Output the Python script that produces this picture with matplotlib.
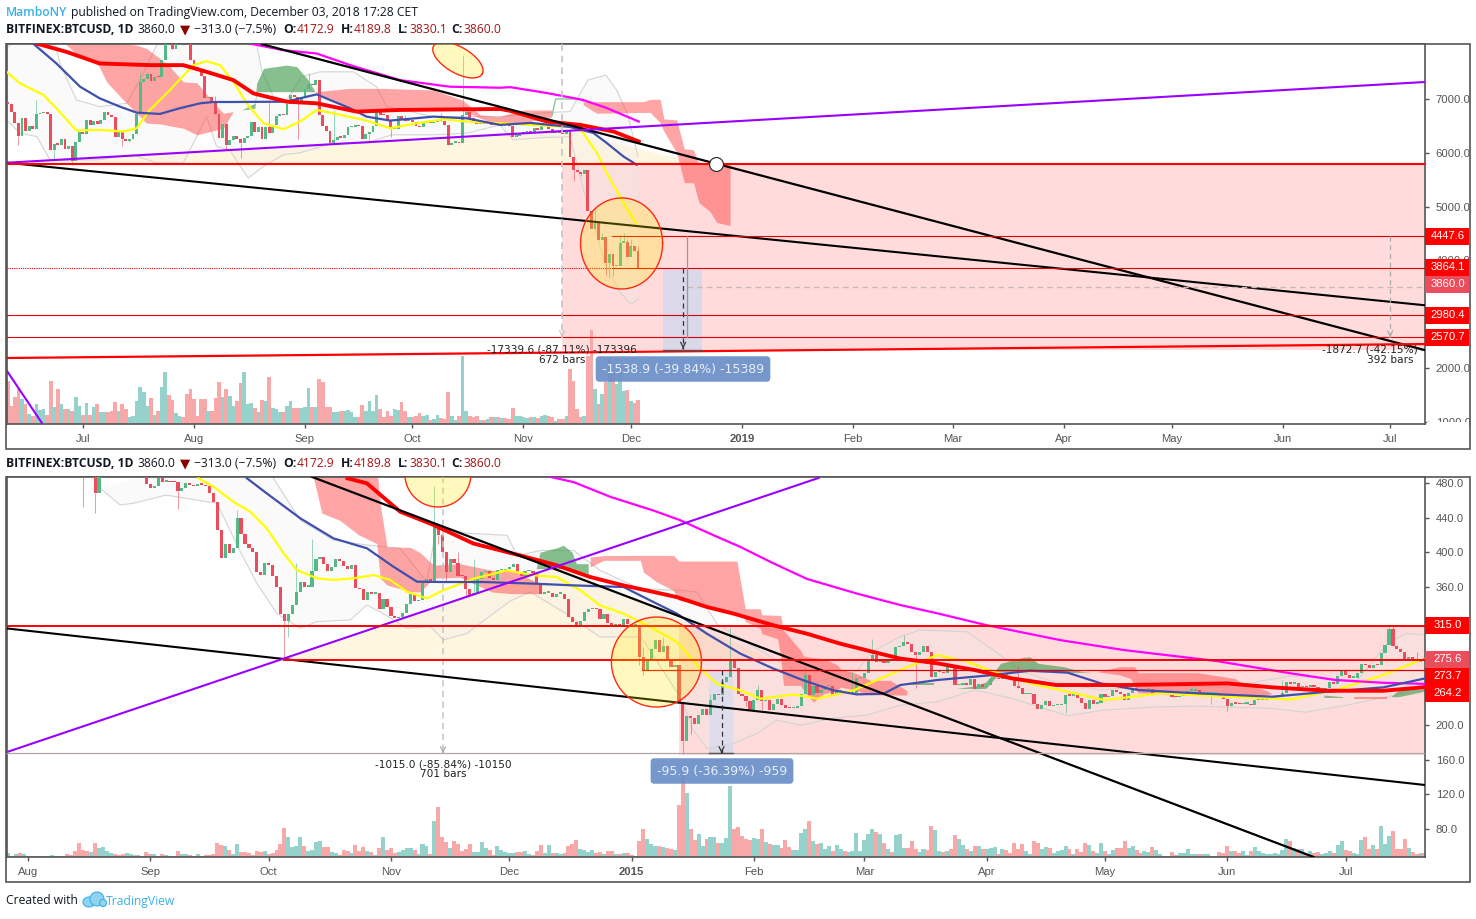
"""
Two stacked BTCUSD daily charts (2018 vs 2014-15 fractal) with the drawings on top.
Day numbers: top panel 0 = 2018-07-01, bottom panel 0 = 2014-08-01.
Volume is in arbitrary units, read off the bar heights.
"""

import numpy as np
import matplotlib
matplotlib.use('Agg')
import matplotlib.pyplot as plt
from matplotlib.patches import Rectangle, Ellipse

W, H = 1476, 919

# ---------- top panel data ----------
top_first_day = -21
top_first_open = 6950
top_close = [
    # Jun 10-30
    6900, 6765, 6550, 6305, 6640, 6400, 6500, 6450, 6720, 6740, 6760, 6720, 6050, 6170, 6150, 6250, 6070, 6130, 5850, 6200, 6380,
    # Jul
    6350, 6610, 6510, 6590, 6530, 6600, 6750, 6700, 6660, 6300, 6380, 6250, 6220, 6250, 6350, 6730, 7320, 7380, 7470, 7330,
    7410, 7400, 7720, 8400, 8170, 7930, 8170, 8230, 8210, 8170, 7730,
    # Aug
    7600, 7530, 7420, 7010, 7030, 6930, 6720, 6280, 6540, 6150, 6240, 6310, 6250, 6190, 6270, 6310, 6580, 6390, 6480, 6260,
    6470, 6360, 6520, 6690, 6730, 6700, 6910, 7080, 7030, 6970, 7010,
    # Sep
    7190, 7270, 7260, 7360, 6700, 6500, 6400, 6180, 6240, 6300, 6280, 6330, 6480, 6480, 6520, 6500, 6250, 6340, 6390, 6490,
    6750, 6710, 6700, 6590, 6440, 6440, 6680, 6620, 6590, 6600,
    # Oct
    6580, 6500, 6480, 6550, 6590, 6550, 6570, 6610, 6590, 6520, 6150, 6190, 6200, 6180, 6700, 6750, 6650, 6560, 6530, 6560,
    6530, 6530, 6510, 6530, 6510, 6530, 6520, 6500, 6300, 6310, 6340,
    # Nov 1-13
    6380, 6400, 6360, 6460, 6430, 6510, 6540, 6450, 6360, 6380, 6370, 6350, 6400,
    # Nov 14 - Dec 3
    5930, 5685, 5650, 5600, 5680, 4913, 4574, 4700, 4375, 4430, 3945, 4110, 3890, 3890, 4330, 4350, 4055, 4260, 4170, 3864]
top_hi_days = [-13, 16, 37, 52, 63, 106, 143, 144, 145, 150, 151, 152, 153, 155, 25, 70, 90, 100]
top_hi_vals = [6980, 7505, 7050, 6950, 7475, 7815, 4950, 4700, 4500, 4480, 4500, 4390, 4390, 4270, 8450, 6800, 6700, 6740]
top_lo_days = [-18, -8, -3, 11, 13, 40, 44, 80, 86, 102, 137, 139, 146, 147, 148, 28, 60]
top_lo_vals = [6148, 5870, 5780, 6117, 6200, 6055, 5900, 6180, 6300, 6272, 5470, 5560, 3700, 3680, 3710, 8000, 6250]
top_vol = [
    130, 55, 80, 105, 75, 60, 30, 25, 60, 42, 45, 28, 130, 50, 105, 60, 45, 45, 40, 80,
    55, 28, 62, 28, 52, 60, 35, 35, 35, 38, 65, 38, 60, 45, 20, 25, 70, 112, 95, 55,
    78, 27, 40, 112, 155, 88, 72, 32, 25, 22, 90, 105, 75, 25, 75, 75, 40, 40, 78, 127,
    82, 105, 85, 55, 70, 124, 157, 60, 62, 48, 35, 72, 70, 140, 48, 45, 35, 37, 55, 70,
    48, 48, 48, 52, 108, 52, 50, 134, 125, 50, 50, 37, 35, 38, 38, 42, 35, 20, 20, 57,
    38, 70, 40, 88, 45, 22, 40, 25, 45, 42, 65, 38, 20, 22, 25, 33, 25, 28, 13, 15,
    28, 17, 15, 97, 23, 12, 25, 203, 38, 25, 22, 25, 12, 12, 15, 20, 20, 20, 18, 18,
    15, 47, 25, 23, 20, 18, 20, 20, 17, 25, 27, 25, 22, 8, 15, 15, 23,
    165, 130, 45, 20, 25, 205, 282, 105, 60, 90, 125, 200, 155, 120, 155, 100, 102, 70, 62, 73]

# moving averages, sampled along the curve
top_yellow_d = [-21.3, -17.6, -11, -7.4, -1.8, 4.7, 11.3, 15, 18.7, 24.3, 30.8, 34.5, 38.3, 42, 45.7, 50.4, 56, 60.6, 65.3, 69.9, 79.2, 85.8, 93.2, 100.7, 107.2, 116.5, 136, 139.7, 143.5, 146.2, 150.4, 154.6]
top_yellow_p = [7505, 7290, 7074, 6827, 6413, 6426, 6395, 6457, 6796, 7167, 7629, 7703, 7629, 7320, 6919, 6549, 6438, 6580, 6796, 6734, 6598, 6457, 6549, 6623, 6580, 6549, 6480, 6370, 6000, 5630, 5130, 4670]
top_blue_d = [-21, -13.9, -7.4, -0.8, 4.7, 10.3, 15, 21.5, 27, 32.7, 36.4, 42, 56.9, 60.6, 65.3, 69, 74.6, 79.2, 85.8, 97.9, 107.2, 116.5, 125, 136, 142.5, 146.2, 150.9, 154.6]
top_blue_p = [8500, 8030, 7660, 7228, 7012, 6858, 6746, 6722, 6827, 6919, 6944, 6944, 6950, 7012, 7086, 6981, 6827, 6672, 6598, 6672, 6640, 6518, 6555, 6480, 6370, 6185, 5932, 5778]
top_red_d = [-21, -12.9, -4.6, 4.7, 18.7, 28, 34.5, 42, 47.6, 56.9, 65.3, 76.4, 88.5, 116.5, 119.3, 129.6, 138.9, 148.2, 155.2]
top_red_p = [8400, 8030, 7876, 7660, 7629, 7629, 7505, 7351, 7104, 6950, 6919, 6765, 6796, 6814, 6780, 6580, 6518, 6394, 6209]
top_mag_d = [46.6, 56, 65.3, 74.6, 88.5, 102.5, 116.5, 119.3, 129.6, 139.7, 146.2, 155.2]
top_mag_p = [8030, 7907, 7845, 7629, 7351, 7228, 7209, 7220, 7110, 6981, 6833, 6580]

# bollinger band outline
top_bb_up_d = [-21.3, -19, -8, -6.4, -1.8, 4.7, 12.2, 15.9, 20.6, 25, 40, 48.5, 49.9, 53.2, 56.9, 61, 66.2, 75.5, 82, 84.8, 97.9, 107, 116.5, 130, 136, 141, 146, 149, 152, 155]
top_bb_up_p = [7937, 8100, 8100, 7660, 6981, 6858, 6919, 7351, 7999, 8400, 8800, 8030, 7536, 7043, 6981, 7413, 7505, 7505, 7228, 6858, 6672, 6672, 6672, 6750, 6765, 7352, 7444, 7167, 6740, 5932]
top_bb_lo_d = [-21.3, -17.6, -12.9, -9.2, -5.5, 4.7, 14, 20.6, 28, 31.8, 34.5, 37.3, 41, 43.9, 46.2, 50.4, 56, 60.6, 69.9, 79.2, 86.2, 97.9, 107.2, 116.5, 120, 128, 136, 141, 146, 150, 153, 155]
top_bb_lo_p = [6611, 6364, 6302, 5870, 5858, 5870, 5963, 5809, 5809, 6302, 6672, 6117, 6055, 5747, 5531, 5747, 5963, 6000, 6179, 6179, 6333, 6333, 6364, 6518, 6240, 6280, 6300, 5005, 3900, 3407, 3185, 3278]

# ichimoku cloud pieces
top_red1_d = [-5, -1, 4.3, 6.6, 11.3, 15, 17.8, 21.5, 24.3, 28, 31.8, 35.5, 39.2, 42]
top_red1_hi = [8030, 8030, 8030, 8030, 8030, 8000, 7938, 7753, 7600, 7320, 7302, 7012, 6735, 6765]
top_red1_lo = [8030, 7783, 7630, 7320, 6981, 6735, 6550, 6537, 6500, 6457, 6334, 6395, 6457, 6765]
top_green1_d = [44.3, 48, 48.5, 50.4, 56.9, 59.7, 62.9, 64.8]
top_green1_hi = [6796, 6920, 7290, 7568, 7630, 7600, 7352, 7135]
top_green1_lo = [6796, 6827, 7135, 7135, 7135, 7135, 7135, 7135]
top_red2_d = [64.8, 74.6, 83.9, 97.9, 106, 111, 116, 122.9, 130.9]
top_red2_hi = [7135, 7197, 7197, 7167, 6981, 6704, 6670, 6796, 6796]
top_red2_lo = [7135, 6796, 6796, 6796, 6796, 6642, 6519, 6556, 6667]
top_green2_d = [131, 132, 138.8, 139.7]
top_green2_p = [6700, 7000, 7000, 6950]
top_red3_d = [139.7, 143.5, 156.5, 158.4, 161.2, 162.2, 165.8, 167.9, 170.5, 172, 175.1, 177, 180.7]
top_red3_hi = [6950, 6950, 6950, 6994, 6994, 6630, 6611, 6074, 6055, 5796, 5796, 5796, 5796]
top_red3_lo = [6890, 6735, 6750, 6750, 6556, 6400, 6000, 5444, 5444, 5074, 4907, 4704, 4648]

# trend lines as (day, price) end points
top_black1 = ([50, 374.6], [8018, 2333])
top_black2 = ([-21.2, 374.6], [5815, 3166])
top_purple1 = ([-21.2, 374.6], [5815, 7315])
top_purple2 = ([-21.2, -11.5], [1944, 981])
top_red_slant = ([-21.2, 374.6], [2185, 2444])

top_yticks = [7000, 6000, 5000, 4000, 3000, 2000, 1000]
top_xticks = [0, 31, 62, 92, 123, 153, 184, 215, 243, 274, 304, 335, 365]
top_xlabels = ['Jul', 'Aug', 'Sep', 'Oct', 'Nov', 'Dec', '2019', 'Feb', 'Mar', 'Apr', 'May', 'Jun', 'Jul']
top_tags = [('4447.6', 236, '#ff0000'), ('3864.1', 267, '#ff0000'), ('3860.0', 284, '#eb4d5c'),
            ('2980.4', 315, '#ff0000'), ('2570.7', 337, '#ff0000')]

# ---------- bottom panel data ----------
bot_first_day = -5
bot_first_open = 590
bot_close = [
    # Jul 27-31 2014
    590, 585, 585, 565, 590,
    # Aug
    595, 590, 585, 585, 587, 590, 590, 590, 590, 590, 580, 570, 565, 505, 500, 497, 505, 468, 495, 510, 515, 520, 515, 510,
    505, 510, 512, 505, 510, 490, 478.5,
    # Sep
    474.6, 476.5, 486, 481.6, 482, 481, 480.8, 471, 474, 479.6, 478, 476, 479, 478, 476, 468, 458.4, 425.7, 393, 410,
    398.7, 404.5, 439, 421, 410, 404.5, 400.6, 377.5, 373.6, 388,
    # Oct
    385, 372, 360, 329, 320.8, 329, 339, 354, 365, 360, 360, 378.6, 392, 394, 386, 378, 383, 392, 390, 384,
    381, 385, 359, 357, 345, 354, 352, 353, 334, 346, 337,
    # Nov
    326.6, 323.5, 325, 330, 340, 351.7, 343, 345, 364, 369, 367, 432.6, 420, 400, 377, 392, 387, 373, 372, 358,
    351, 353, 369, 377, 378, 370, 368, 379, 379, 381,
    # Dec
    383, 386, 377, 372, 378, 378, 376, 363, 352, 353, 353, 348, 352, 352, 346, 325, 319, 313, 320, 331,
    334, 335, 334, 323, 328, 318, 315, 317, 313, 323, 317,
    # Jan 2015
    316, 316, 279, 264, 276, 288, 299, 285, 291, 277, 267, 269, 227, 182, 210.5, 208, 201, 212, 219, 212,
    229, 236, 235, 250, 255.6, 277, 265.9, 236, 234, 228, 217.5,
    # Feb
    229, 240.6, 228, 229, 217.5, 224.5, 230, 223, 220, 219.8, 220, 222, 236, 258, 235, 245, 237, 241, 245, 245,
    235, 239, 239, 237, 237, 237, 254, 254,
    # Mar
    260, 275, 281, 273, 276, 272, 275, 274, 290, 292, 296, 294, 285, 281, 285, 291, 285, 256, 261, 262,
    260, 268, 266, 246, 247, 249, 247, 253, 242, 248, 244,
    # Apr
    247, 253, 254, 253, 260, 255, 253, 245, 243, 236, 236, 236, 224, 219, 223, 228, 222, 223, 223, 224,
    235, 234, 236, 231, 226, 219, 229, 225, 226, 236,
    # May
    232, 234, 241, 238, 236, 229, 237, 243, 241, 240, 242, 242, 236, 237, 237, 236, 237, 233, 232, 234,
    235, 240, 240, 241, 237, 237, 237, 237, 237, 233, 230,
    # Jun
    222, 226, 225, 224, 225, 225, 223, 229, 229, 229, 230, 230, 233, 234, 237, 250, 248, 249, 244, 245,
    244, 247, 244, 241, 242, 243, 250, 248, 257, 263,
    # Jul 1-21
    258, 255, 255, 260, 271, 269, 266, 270, 269, 284, 293, 311, 292, 288, 285, 276, 279, 274, 273, 277, 276]
bot_hi_days = [53, 68, 72, 103, 109, 113, 178, 185, 197, 209, 214, 222, 251, 281, 318, 333, 345, 346, 352, 156, 173, 161]
bot_hi_vals = [449, 387, 415, 476, 400, 392, 314, 247, 268, 262, 300, 304, 268, 250, 252, 262, 316, 316, 285, 290, 236, 302]
bot_lo_days = [14, 17, 38, 65, 66, 100, 104, 106, 111, 155, 156, 166, 168, 182, 186, 225, 263, 300, 304]
bot_lo_vals = [452, 445, 450, 277, 302, 349, 410, 365, 348, 270, 258, 167, 190, 222, 218, 243, 214, 224, 216]
bot_vol = [
    12, 3, 9, 12, 9,
    3, 3, 3, 3, 3, 3, 6, 3, 3, 3, 9, 6, 18, 42, 21, 18, 15, 42, 27, 30, 18, 12, 9, 6, 9, 12, 9, 6, 6, 3, 15,
    9, 9, 3, 9, 6, 3, 3, 18, 9, 9, 6, 3, 9, 3, 6, 6, 9, 42, 36, 33, 21, 9, 39, 15, 15, 12, 6, 18, 15, 18,
    9, 12, 21, 39, 87, 60, 30, 33, 60, 33, 18, 21, 45, 48, 30, 30, 15, 12, 6, 21, 18, 12, 36, 18, 30, 18, 15, 6, 27, 60, 21,
    27, 12, 15, 21, 27, 27, 21, 9, 39, 33, 9, 108, 150, 60, 45, 27, 48, 39, 18, 24, 39, 15, 15, 45, 27, 21, 6, 33, 21, 15,
    12, 12, 15, 15, 18, 9, 6, 18, 36, 12, 36, 12, 12, 9, 12, 33, 39, 51, 24, 21, 15, 21, 12, 15, 9, 18, 18, 9, 9, 12, 12, 6, 3,
    48, 84, 54, 39, 33, 33, 30, 27, 24, 21, 156, 258, 192, 84, 51, 69, 33, 54, 60, 60, 42, 42, 57, 213, 84, 90, 63, 54, 51, 57, 54,
    84, 45, 39, 36, 36, 27, 51, 30, 21, 21, 72, 84, 108, 48, 39, 42, 24, 33, 18, 36, 24, 18, 15, 18, 72, 18, 51, 69,
    84, 75, 69, 42, 24, 15, 66, 69, 27, 27, 48, 24, 15, 24, 21, 93, 81, 18, 15, 18, 24, 66, 54,
    36, 24, 18, 33, 33, 24, 24, 27, 30, 9, 24, 21, 12, 42, 24, 39, 18, 9, 48, 42, 24, 30, 27, 12, 18, 21, 33, 24, 9, 24,
    15, 42, 36, 18, 12, 42, 18, 9, 21, 27, 27, 48, 27, 33, 21, 12, 18, 15, 30, 21, 9, 3, 3, 15, 6, 12, 12, 24, 9, 9, 9, 9, 9, 3, 3,
    15, 12, 33, 18, 18, 12, 18, 6, 18, 30, 18, 12, 9, 9, 12, 9, 21, 54, 48, 27, 24, 24, 9, 18, 12, 15, 9, 12, 18, 12,
    36, 48, 21, 18, 12, 9, 51, 60, 24, 36, 24, 93, 39, 63, 78, 24, 24, 54, 27, 15, 9, 12, 12]

bot_yellow_d = [43.2, 47, 52, 56.3, 60.5, 64.8, 68.1, 73.2, 77.4, 82.5, 87.6, 91.8, 96, 101.1, 105.3, 112.9, 121.4, 128.2, 134, 140, 145, 151, 158.6, 164.5, 170.4, 174.6, 180.6, 185.6, 194.1, 200, 209.3, 216, 221.1, 230.5, 238.1, 244.7, 254, 263.5, 272.9, 287.1, 304, 320.1, 331.4, 343.6, 353, 355.4]
bot_yellow_v = [485.4, 475.8, 458.4, 446.9, 427.6, 398.7, 379.4, 369.8, 367.9, 369.8, 373.6, 367.9, 354.4, 346.6, 356, 369.3, 379, 373.2, 371.3, 355.9, 338.5, 328.9, 311.5, 296.1, 265.3, 247.9, 240.2, 230.6, 235.6, 230.6, 240.2, 253.7, 263.7, 281, 273.4, 261.8, 248.3, 238.7, 229, 236.8, 232.9, 229.8, 240.6, 258, 275.3, 276.1]
bot_blue_d = [55.5, 60.5, 69, 77.4, 85.9, 92.6, 98.6, 104.5, 115.5, 128.2, 138.3, 151, 155.2, 159.4, 164.5, 172.1, 180.6, 189, 196.6, 204.2, 210.1, 216.9, 221.1, 230.5, 244.7, 254, 263.5, 272, 281.4, 296.5, 315.4, 329.5, 343.6, 355.4]
bot_blue_v = [485.4, 468, 439.2, 416, 404.5, 383.3, 365.9, 365.5, 365.5, 363.6, 361.6, 359.7, 350, 340.4, 328.9, 305.7, 282.6, 265.3, 251.8, 240.2, 235.6, 236.4, 246.4, 252.2, 258, 263, 260.7, 248.3, 240.6, 236.8, 232.9, 238.7, 243.7, 255.3]
bot_red_d = [81, 85.9, 94.3, 102.8, 112.9, 124.7, 134, 142.5, 150.9, 158.6, 164.5, 172.1, 178.9, 189, 197.5, 205.9, 214.4, 221.1, 230.5, 240, 249.4, 260.7, 277.7, 304, 315.4, 329.5, 343.6, 355.4]
bot_red_v = [485.4, 479.6, 446.9, 431.5, 410, 396.3, 384.8, 371.3, 361.6, 354, 348, 336.6, 328.9, 315.4, 305.7, 294.2, 284.5, 277, 271.5, 263.7, 254.1, 246.4, 246.4, 248.3, 243.7, 239.8, 239.8, 244.5]
bot_mag_d = [130, 132.4, 138.3, 147.6, 158.6, 165.3, 173.8, 180.6, 189, 197.5, 210.2, 221.1, 230.5, 242.8, 261.6, 277.7, 301.2, 320.1, 331.4, 343.6, 355.4]
bot_mag_v = [490, 487, 481, 464, 448, 437, 419.5, 406, 387, 369, 352, 338.9, 329.3, 315.8, 298.4, 286.9, 274.2, 259.9, 252.2, 249, 247.6]

bot_bb_up_d = [55, 62.2, 69, 77.4, 85.9, 94.3, 97.7, 101.1, 103.6, 111.2, 121.4, 124, 130, 138.3, 145, 155, 165.3, 169.6, 174.6, 189, 200, 210, 214, 221, 226, 238, 244.7, 252, 258.8, 272, 287, 303, 320, 337, 344.6, 349.3, 355.4]
bot_bb_up_v = [520, 485.4, 437.2, 414, 408.3, 404.5, 385, 366, 431.5, 421.8, 419.5, 396, 402, 402, 379, 358, 355.8, 354, 317.3, 276.8, 250, 262, 285, 302, 310, 308, 287, 262, 252, 240.6, 246.4, 243.7, 256.8, 252, 294.6, 306, 304]
bot_bb_lo_d = [18.3, 23.3, 26.7, 35, 47.9, 53.8, 58, 63.1, 69, 73.2, 81.7, 85.9, 91.4, 96, 102, 105.3, 111.2, 122.2, 127.3, 136, 145, 155.4, 165.8, 168.7, 172.1, 178.9, 184.8, 189.8, 195.8, 204.2, 212.7, 221.1, 230.5, 240, 249.4, 258.8, 263.5, 272.9, 285.2, 296.5, 315.4, 323.8, 334.2, 346.5, 355.4]
bot_bb_lo_v = [473.9, 454.6, 456.5, 466, 456.5, 400.6, 364, 329, 311.9, 319.7, 321.6, 339, 325.4, 312, 313.9, 298.5, 306, 343.5, 354, 330, 302, 302, 229, 194, 173, 179, 190.5, 206, 200, 208, 211.7, 223, 227, 240.6, 231, 217.5, 211, 217.5, 221, 222, 219.4, 215, 223, 234.8, 248.3]

bot_red1_d = [64.8, 72.4, 74.5, 79, 83.8, 88.4, 89.3, 91, 96.9, 99.4, 102.8, 109.5, 117.6, 122.7, 129.7]
bot_red1_hi = [520, 520, 520, 520, 520, 500, 454.6, 406, 405.6, 399.5, 385, 386.7, 379, 379, 363.6]
bot_red1_lo = [520, 485, 445, 437, 420, 410, 369.8, 362, 354.4, 354, 370, 371, 354, 352, 352]
bot_green1_d = [128.8, 129.8, 134, 135.7, 137.9, 139, 142]
bot_green1_hi = [381, 400, 405, 408, 400, 386.7, 386.7]
bot_green1_lo = [381, 381, 381, 381, 381, 379, 375]
bot_red2_d = [142.5, 146, 155.2, 156, 159.4, 163.6, 165, 171.3, 179.7, 181, 181.8, 185.6, 186, 190, 190.8, 191.5, 195.8, 196.6, 199.1, 201.7, 205.1, 206, 210.1, 213.5, 218.6, 222.8]
bot_red2_hi = [394.4, 396, 396.3, 396.3, 396.3, 396.3, 389.8, 389.8, 389.8, 355.9, 334.6, 334.6, 327.7, 327, 327, 310, 286.5, 280, 278, 276.8, 270, 265, 259.5, 251.8, 251.8, 240]
bot_red2_lo = [382.9, 390.6, 390.6, 377, 365.5, 355.9, 344.3, 340, 329, 329, 320, 312, 305.7, 300, 278.8, 246, 246, 240, 226.7, 236.4, 240, 244, 240, 235, 235, 235]
bot_green2_d = [223, 229.6]
bot_green2_hi = [248.7, 248.7]
bot_green2_lo = [246.4, 246.4]
bot_green3_d = [235.2, 240, 242.8, 244.7, 246.5, 252.2, 254, 256, 262.6, 267.3, 270.1]
bot_green3_hi = [242.5, 245.2, 250, 259.9, 271.5, 278.4, 279.2, 271.5, 267.6, 261.8, 260.7]
bot_green3_lo = [242.5, 242.5, 242.5, 252.2, 261.8, 261.8, 261.8, 261.8, 261, 261, 260.7]
bot_red3_d = [271, 276.7, 279.5, 280.5, 281.4, 296.5, 305.9, 307.8, 312.5, 315.4]
bot_red3_hi = [261.8, 267.6, 267.6, 267.6, 260.7, 260.7, 254, 248.3, 242.5, 236.8]
bot_red3_lo = [261.8, 258, 254, 245, 237.5, 234.8, 234, 233, 232.9, 236.8]
bot_green4_d = [328.5, 333.3]
bot_green4_hi = [234.8, 232.9]
bot_green4_lo = [232.1, 232.1]
bot_red4_d = [336.1, 344.6]
bot_red4_hi = [232.1, 232.1]
bot_red4_lo = [230.2, 230.2]
bot_green5_d = [345.5, 347.4, 355.4]
bot_green5_hi = [232.9, 240.6, 242.5]
bot_green5_lo = [232.9, 232.9, 240.6]

bot_black1 = ([72, 325.9], [487, 47.6])
bot_black2 = ([-5.3, 354], [311.8, 130.9])
bot_purple = ([-5.3, 200.4], [169, 485.8])

bot_yticks = [480, 440, 400, 360, 320, 280, 240, 200, 160, 120, 80]
bot_xticks = [0, 31, 61, 92, 122, 153, 184, 212, 243, 273, 304, 334]
bot_xlabels = ['Aug', 'Sep', 'Oct', 'Nov', 'Dec', '2015', 'Feb', 'Mar', 'Apr', 'May', 'Jun', 'Jul']
bot_tags = [('315.0', 625, '#ff0000'), ('275.6', 659, '#eb4d5c'), ('273.7', 676, '#ff0000'), ('264.2', 693, '#ff0000')]

UP, DOWN = '#53b987', '#eb4d5c'
VOL_UP, VOL_DOWN = '#95d2cc', '#f7a8a8'
C_RED, C_GREEN = '#ff4d4d', '#3d9a4a'
FRAME = '#555555'
AX_FONT = 'Liberation Sans'


def px_rect(x0, y0, x1, y1):
    return [x0 / W, 1 - y1 / H, (x1 - x0) / W, (y1 - y0) / H]


def ftext(x, y, s, **kw):
    kw.setdefault('va', 'center')
    kw.setdefault('family', 'Open Sans')
    kw.setdefault('fontsize', 8.75)
    kw.setdefault('color', '#131722')
    return fig.text(x / W, 1 - y / H, s, **kw)


def frect(x0, y0, x1, y1, **kw):
    r = px_rect(x0, y0, x1, y1)
    fig.add_artist(Rectangle((r[0], r[1]), r[2], r[3], transform=fig.transFigure, **kw))


def make_panel(y0, y1, xlim, ylim, yticks, xticks, xlabels):
    pos = px_rect(7, y0, 1424.5, y1)
    axv = fig.add_axes(pos)
    ax = fig.add_axes(pos, sharex=axv)
    axv.set_zorder(1)
    ax.set_zorder(2)
    ax.patch.set_visible(False)
    ax.set_xlim(*xlim)
    ax.set_ylim(*ylim)
    axv.set_ylim(0, (y1 - y0) * 3)
    axv.yaxis.set_visible(False)
    axv.xaxis.set_visible(False)
    for s in axv.spines.values():
        s.set_visible(False)
    for s in ax.spines.values():
        s.set_color(FRAME)
        s.set_linewidth(1.2)
    ax.yaxis.tick_right()
    ax.set_yticks(yticks)
    ax.set_yticklabels(['%.1f' % v for v in yticks], family=AX_FONT, fontsize=8.1, color=FRAME)
    ax.set_xticks(xticks)
    ax.set_xticklabels(xlabels, family=AX_FONT, fontsize=8.1, color=FRAME)
    for lbl in ax.get_xticklabels():
        if lbl.get_text() in ('2019', '2015'):
            lbl.set_fontweight('bold')
    ax.tick_params(axis='both', length=3, width=1, color=FRAME, pad=5)
    ax.tick_params(axis='x', pad=4)
    return ax, axv


def candles(ax, axv, first_day, first_open, close, hi_days, hi_vals, lo_days, lo_vals, vol):
    close = np.array(close, dtype=float)
    days = first_day + np.arange(len(close))
    opens = np.r_[first_open, close[:-1]]
    up = close >= opens
    colors = np.where(up, UP, DOWN)
    bottom = np.minimum(opens, close)
    span = ax.get_ylim()[1] - ax.get_ylim()[0]
    height = np.maximum(np.abs(close - opens), span * 0.0035)
    ax.bar(days, height, bottom=bottom, width=0.8, color=colors, zorder=3, linewidth=0)
    for dd, vv in list(zip(hi_days, hi_vals)) + list(zip(lo_days, lo_vals)):
        i = dd - first_day
        ax.plot([dd, dd], [close[i], vv], color=colors[i], lw=0.7, alpha=0.6, zorder=2.9,
                solid_capstyle='butt')
    n = min(len(vol), len(days))
    axv.bar(days[:n], vol[:n], width=1.02, color=np.where(up[:n], VOL_UP, VOL_DOWN), linewidth=0, zorder=2)


def band(ax, up_d, up_v, lo_d, lo_v):
    ax.fill(np.r_[up_d, lo_d[::-1]], np.r_[up_v, lo_v[::-1]], color='#eeeeee', alpha=0.25, lw=0, zorder=1)
    ax.plot(up_d, up_v, color='#d4d4d4', lw=0.8, zorder=1.2)
    ax.plot(lo_d, lo_v, color='#d4d4d4', lw=0.8, zorder=1.2)


def cloud(ax, d, hi, lo, color):
    alpha = 0.5 if color == C_RED else 0.62
    ax.fill_between(d, lo, hi, color=color, alpha=alpha, lw=0, zorder=1.5)


def ellipse(ax, cx, cy, a, b, px_day, px_val, angle=0, **kw):
    # a, b are pixel radii; angle turns clockwise on screen
    t = np.linspace(0, 2 * np.pi, 120)
    th = np.radians(angle)
    dx = a * np.cos(t) * np.cos(th) - b * np.sin(t) * np.sin(th)
    dy = a * np.cos(t) * np.sin(th) + b * np.sin(t) * np.cos(th)
    ax.fill(cx + dx / px_day, cy - dy / px_val, facecolor='#ffea00', alpha=0.25, lw=0, zorder=6)
    ax.plot(cx + dx / px_day, cy - dy / px_val, color='#ff2a10', lw=1.0, zorder=6.1)


def arrow(ax, x, y_from, y_to, color):
    ax.annotate('', xy=(x, y_to), xytext=(x, y_to + (y_from - y_to) * 0.001),
                arrowprops=dict(arrowstyle='->', color=color, lw=0.9, shrinkA=0, shrinkB=0, mutation_scale=9), zorder=7)


def header(y):
    ftext(6, y, 'BITFINEX:BTCUSD, 1D', fontweight='bold')
    ftext(138, y, '3860.0')
    ftext(180, y, '\u25bc', color='#8b0000', family='DejaVu Sans', fontsize=9.5)
    ftext(194, y, '\u2212313.0 (\u22127.5%)')
    for x, s in [(283, 'O:'), (341, 'H:'), (398, 'L:'), (451, 'C:')]:
        ftext(x, y, s, fontweight='bold')
    for x, s in [(297, '4172.9'), (354, '4189.8'), (409, '3830.1'), (464, '3860.0')]:
        ftext(x, y, s, color='#a31515')


def tags(items):
    for s, y, c in items:
        frect(1425, y - 8.5, 1469, y + 8.5, facecolor=c, edgecolor='none', zorder=10)
        ftext(1448, y, s, color='white', family=AX_FONT, fontsize=8.1, ha='center', zorder=11)


fig = plt.figure(figsize=(W / 100, H / 100), dpi=100, facecolor='white')

# outer frames
frect(6, 44, 1470, 449, facecolor='none', edgecolor=FRAME, lw=1.2, zorder=0.5)
frect(6, 477, 1470, 882, facecolor='none', edgecolor=FRAME, lw=1.2, zorder=0.5)

# ---------- top panel ----------
ax1, ax1v = make_panel(44, 424, (-21.2, 374.6), (958, 8022), top_yticks, top_xticks, top_xlabels)
ax1v.fill([133.8, 374.6, 374.6, 133.8], [5796, 5796, 2335, 2335], color='#ff0000', alpha=0.14, lw=0,
          transform=ax1.transData, zorder=0.5)
ax1v.fill([-21.2, 133.8, 172], [5815, 6420, 5796], color='#ffc830', alpha=0.15, lw=0,
          transform=ax1.transData, zorder=0.4)
ax1v.fill([162, 172.9, 172.9, 162], [3864, 3864, 2340, 2340], color='#d8d8ec', lw=0, alpha=0.9,
          transform=ax1.transData, zorder=0.6)

band(ax1, np.array(top_bb_up_d), np.array(top_bb_up_p), np.array(top_bb_lo_d), np.array(top_bb_lo_p))
cloud(ax1, top_red1_d, top_red1_hi, top_red1_lo, C_RED)
cloud(ax1, top_green1_d, top_green1_hi, top_green1_lo, C_GREEN)
cloud(ax1, top_red2_d, top_red2_hi, top_red2_lo, C_RED)
ax1.plot(top_green2_d, top_green2_p, color='#8fc49a', lw=1.0, zorder=1.5)
cloud(ax1, top_red3_d, top_red3_hi, top_red3_lo, C_RED)
candles(ax1, ax1v, top_first_day, top_first_open, top_close, top_hi_days, top_hi_vals, top_lo_days, top_lo_vals, top_vol)

ax1.plot(top_yellow_d, top_yellow_p, color='#ffff00', lw=1.6, zorder=4)
ax1.plot(top_mag_d, top_mag_p, color='#ff00ff', lw=1.6, zorder=4)
ax1.plot(top_blue_d, top_blue_p, color='#3f4fae', lw=1.6, zorder=4.1)
ax1.plot(top_red_d, top_red_p, color='#ff0000', lw=2.8, zorder=4.2)
ax1.plot(*top_black1, color='black', lw=1.6, zorder=5)
ax1.plot(*top_black2, color='black', lw=1.5, zorder=5)
ax1.plot(*top_purple1, color='#9900ff', lw=1.5, zorder=5)
ax1.plot(*top_purple2, color='#9900ff', lw=1.5, zorder=5)
ax1.plot(*top_red_slant, color='#ff0000', lw=1.6, zorder=5)
ax1.plot([-21.2, 374.6], [5796, 5796], color='#ff0000', lw=1.5, zorder=5)
ax1.plot([147.8, 374.6], [4447.6, 4447.6], color='#dd0000', lw=0.8, zorder=5)
ax1.plot([-21.2, 147.8], [3864.1, 3864.1], color='#dd0000', lw=0.8, ls=(0, (1, 1)), zorder=5)
ax1.plot([147.8, 374.6], [3864.1, 3864.1], color='#dd0000', lw=0.8, zorder=5)
ax1.plot([-21.2, 374.6], [2980.4, 2980.4], color='#dd0000', lw=0.8, zorder=5)
ax1.plot([-21.2, 374.6], [2570.7, 2570.7], color='#dd0000', lw=0.8, zorder=5)
ax1.plot([168.7, 374.6], [3505, 3505], color='#c8b8b8', lw=1, ls=(0, (4, 3)), zorder=5)
ax1.plot([133.8, 133.8], [8022, 2570.7], color='#c4c4c4', lw=1.2, ls=(0, (4, 3)), zorder=5)
ax1.plot([365, 365], [4447.6, 2570.7], color='#aaaaaa', lw=0.9, ls=(0, (4, 3)), zorder=5)
ax1.plot([168.7, 168.7], [4447.6, 2570.7], color='#999999', lw=0.9, zorder=5)
ax1.plot([167.6, 167.6], [3864.1, 2360], color='#333333', lw=0.9, ls=(0, (4, 3)), zorder=5)
ax1.plot([162, 172.9], [2340, 2340], color='#555555', lw=1, zorder=5)
arrow(ax1, 133.8, 3000, 2570.7, '#c4c4c4')
arrow(ax1, 365, 3000, 2570.7, '#aaaaaa')
arrow(ax1, 167.6, 3000, 2360, '#333333')
ax1.plot([176.8], [5796], 'o', ms=10, mfc='white', mec='#222222', mew=0.8, zorder=8)
ellipse(ax1, 150.4, 4314, 41, 45.5, 3.58, 1 / 18.59)
ellipse(ax1, 104.7, 7725, 28, 13, 3.58, 1 / 18.59, angle=30)

ax1.text(133.8, 2352, '-17339.6 (-87.11%) -173396', ha='center', va='center', fontsize=7.6, color='#222222', zorder=9)
ax1.text(133.8, 2157, '672 bars', ha='center', va='center', fontsize=7.6, color='#222222', zorder=9)
ax1.text(365, 2352, '-1872.7 (-42.15%) -18727', ha='center', va='center', fontsize=7.6, color='#222222', zorder=9, clip_on=True)
ax1.text(365, 2157, '392 bars', ha='center', va='center', fontsize=7.6, color='#222222', zorder=9)

# ---------- bottom panel ----------
ax2, ax2v = make_panel(477, 857, (-5.33, 354), (47.6, 486.9), bot_yticks, bot_xticks, bot_xlabels)
ax2v.fill([165.1, 354, 354, 165.1], [315, 315, 165, 165], color='#ff0000', alpha=0.14, lw=0,
          transform=ax2.transData, zorder=0.5)
ax2v.fill([65, 134, 189], [275.6, 384, 275.6], color='#ffc830', alpha=0.15, lw=0,
          transform=ax2.transData, zorder=0.4)
ax2v.fill([172.7, 178.8, 178.8, 172.7], [264.2, 264.2, 167.7, 167.7], color='#d8d8ec', lw=0, alpha=0.9,
          transform=ax2.transData, zorder=0.6)

band(ax2, np.array(bot_bb_up_d), np.array(bot_bb_up_v), np.array(bot_bb_lo_d), np.array(bot_bb_lo_v))
cloud(ax2, bot_red1_d, bot_red1_hi, bot_red1_lo, C_RED)
cloud(ax2, bot_green1_d, bot_green1_hi, bot_green1_lo, C_GREEN)
cloud(ax2, bot_red2_d, bot_red2_hi, bot_red2_lo, C_RED)
cloud(ax2, bot_green2_d, bot_green2_hi, bot_green2_lo, C_GREEN)
cloud(ax2, bot_green3_d, bot_green3_hi, bot_green3_lo, C_GREEN)
cloud(ax2, bot_red3_d, bot_red3_hi, bot_red3_lo, C_RED)
cloud(ax2, bot_green4_d, bot_green4_hi, bot_green4_lo, C_GREEN)
cloud(ax2, bot_red4_d, bot_red4_hi, bot_red4_lo, C_RED)
cloud(ax2, bot_green5_d, bot_green5_hi, bot_green5_lo, C_GREEN)
candles(ax2, ax2v, bot_first_day, bot_first_open, bot_close, bot_hi_days, bot_hi_vals, bot_lo_days, bot_lo_vals, bot_vol)

ax2.plot(bot_yellow_d, bot_yellow_v, color='#ffff00', lw=1.6, zorder=4)
ax2.plot(bot_mag_d, bot_mag_v, color='#ff00ff', lw=1.6, zorder=4)
ax2.plot(bot_blue_d, bot_blue_v, color='#3f4fae', lw=1.6, zorder=4.1)
ax2.plot(bot_red_d, bot_red_v, color='#ff0000', lw=2.8, zorder=4.2)
ax2.plot(*bot_black1, color='black', lw=1.6, zorder=5)
ax2.plot(*bot_black2, color='black', lw=1.5, zorder=5)
ax2.plot(*bot_purple, color='#9900ff', lw=1.5, zorder=5)
ax2.plot([-5.33, 354], [315, 315], color='#ff0000', lw=1.4, zorder=5)
ax2.plot([65, 354], [275.6, 275.6], color='#ff0000', lw=1.4, zorder=5)
ax2.plot([155.7, 354], [264.2, 264.2], color='#dd0000', lw=0.9, zorder=5)
ax2.plot([-5.33, 354], [167.7, 167.7], color='#b0a6a6', lw=0.9, zorder=5)
ax2.plot([105.2, 105.2], [486.9, 167.7], color='#c4c4c4', lw=1.1, ls=(0, (4, 3)), zorder=3.5)
ax2.plot([175.8, 175.8], [264.2, 167.7], color='#333333', lw=0.9, ls=(0, (4, 3)), zorder=5)
ax2.plot([172.7, 178.8], [167.7, 167.7], color='#555555', lw=1, zorder=5)
arrow(ax2, 105.2, 200, 167.7, '#aaaaaa')
arrow(ax2, 175.8, 200, 167.7, '#333333')
ellipse(ax2, 159.3, 273, 45, 45, 3.943, 0.865)
ellipse(ax2, 103.9, 490.4, 33, 33, 3.943, 0.865)

ax2.text(105.2, 155, '-1015.0 (-85.84%) -10150', ha='center', va='center', fontsize=7.6, color='#222222', zorder=9)
ax2.text(105.2, 143.6, '701 bars', ha='center', va='center', fontsize=7.6, color='#222222', zorder=9)

# ---------- things outside the panels ----------
ftext(6, 12.5, 'MamboNY', color='#3bb0e6', fontweight='semibold')
ftext(71, 12.5, 'published on TradingView.com, December 03, 2018 17:28 CET')
header(29.5)
header(463.5)

frect(1427, 422, 1469, 432, facecolor='white', edgecolor='none', zorder=5)
tags(top_tags)
tags(bot_tags)

ftext(683, 369, '-1538.9 (-39.84%) -15389', family='DejaVu Sans', fontsize=9.0, color='#e8eef8', ha='center', zorder=12,
      bbox=dict(boxstyle='round,pad=0.5,rounding_size=0.3', fc='#6b8fc7', ec='none', alpha=0.93))
ftext(722, 771, '-95.9 (-36.39%) -959', family='DejaVu Sans', fontsize=9.0, color='#e8eef8', ha='center', zorder=12,
      bbox=dict(boxstyle='round,pad=0.5,rounding_size=0.3', fc='#6b8fc7', ec='none', alpha=0.93))

ftext(6, 901, 'Created with')
for cx, cy, rx, ry in [(89, 902, 6, 5), (97, 899, 7, 7), (103, 903, 3.5, 3.5)]:
    fig.add_artist(Ellipse((cx / W, 1 - cy / H), 2 * rx / W, 2 * ry / H, transform=fig.transFigure,
                           facecolor='#8fd3f0', edgecolor='#3bb0e6', lw=0.8, zorder=3))
ftext(106, 901, 'TradingView', color='#3bb0e6')

fig.savefig('out.png', dpi=100)
